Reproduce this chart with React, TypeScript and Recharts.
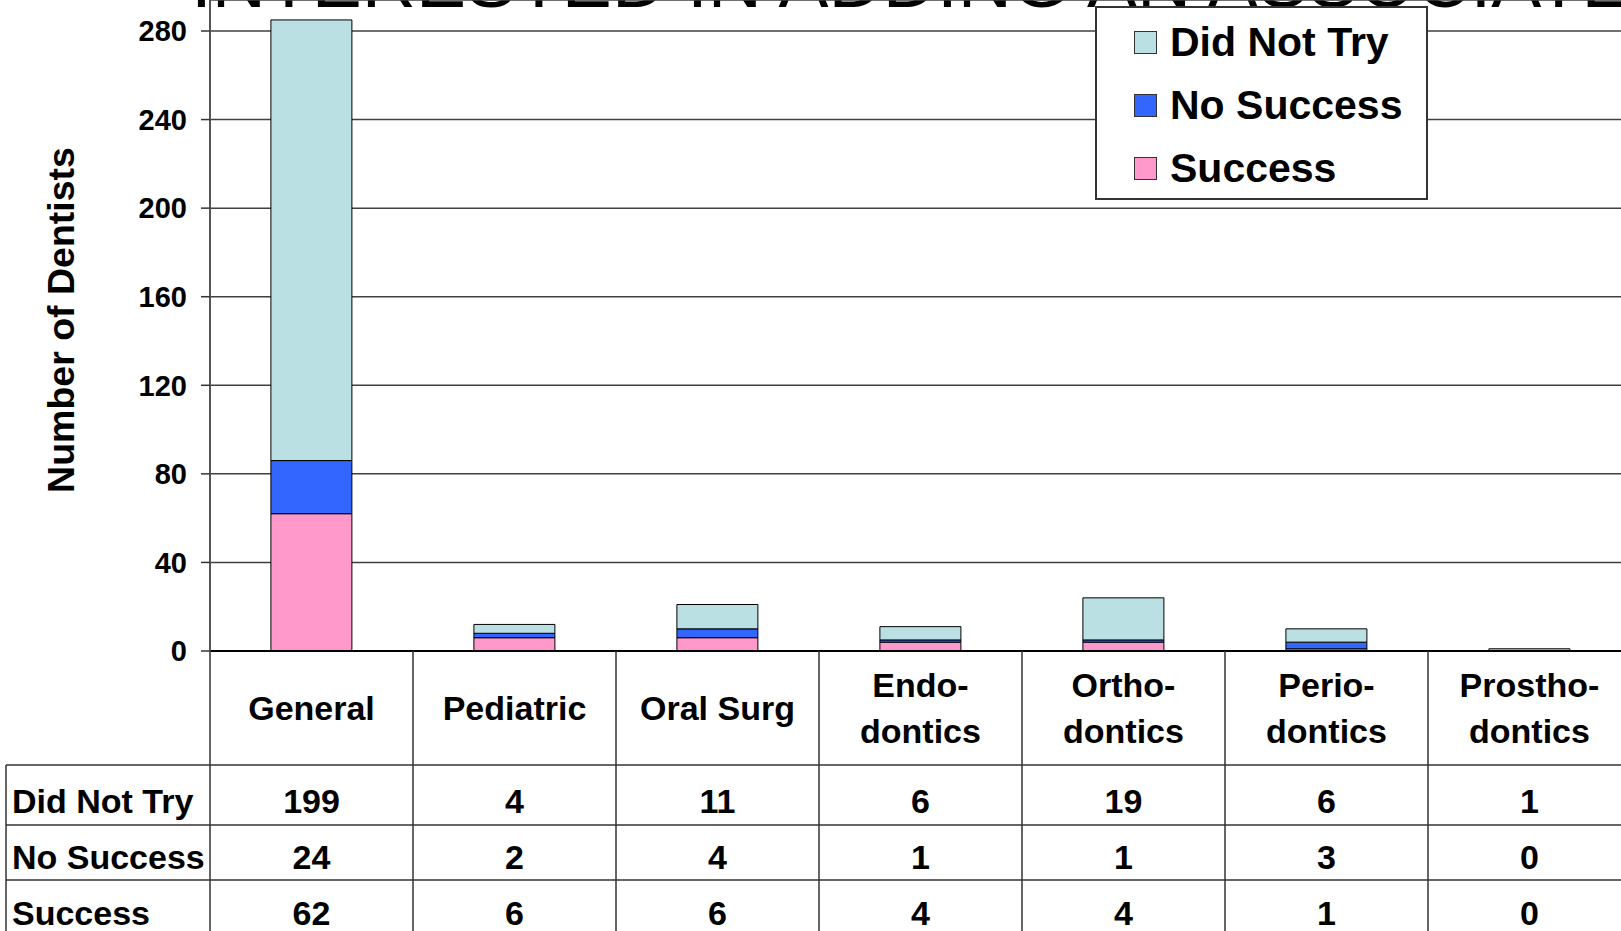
import React from 'react';
import { BarChart, Bar, XAxis, YAxis, CartesianGrid, Legend } from 'recharts';

// ---------- data ----------
const categories = ['General', 'Pediatric', 'Oral Surg', 'Endo-dontics', 'Ortho-dontics', 'Perio-dontics', 'Prostho-dontics'];
const didNotTry = [199, 4, 11, 6, 19, 6, 1];
const noSuccess = [24, 2, 4, 1, 1, 3, 0];
const success = [62, 6, 6, 4, 4, 1, 0];
const yTicks = [0, 40, 80, 120, 160, 200, 240, 280];
const titleText = 'INTERESTED IN ADDING AN ASSOCIATE';
const yAxisTitle = 'Number of Dentists';

const stackSeries = [
  { key: 'success', name: 'Success', color: '#FF99CC', values: success },
  { key: 'noSuccess', name: 'No Success', color: '#3366FF', values: noSuccess },
  { key: 'didNotTry', name: 'Did Not Try', color: '#BBE0E3', values: didNotTry },
];
const tableRows = [...stackSeries].reverse();

const data = categories.map((name, i) => ({
  name,
  success: success[i],
  noSuccess: noSuccess[i],
  didNotTry: didNotTry[i],
}));

// ---------- layout ----------
const FONT = '"Liberation Sans", Arial, Helvetica, sans-serif';
const CHART_W = 1631;
const CHART_H = 931;
const Y_AXIS_W = 210;
const X_AXIS_H = 280;
const PLOT_BOTTOM = CHART_H - X_AXIS_H;
const BAND = (CHART_W - Y_AXIS_W) / categories.length;
const TABLE_LEFT = 6;
const ROW_LINES = [765, 825, 880];
const ROW_BASELINES = [813, 869, 925];
const LINE_COLOR = '#333';

const TableTick = (props: any) => {
  const { x, payload } = props;
  const i = categories.indexOf(payload.value);
  const left = x - BAND / 2;
  const right = x + BAND / 2;
  const label: string = payload.value;
  const parts = label.includes('-') ? [label.slice(0, label.indexOf('-') + 1), label.slice(label.indexOf('-') + 1)] : [label];
  const textStyle = { fontFamily: FONT, fontWeight: 'bold' as const, fontSize: 34, fill: '#000' };
  return (
    <g>
      {i === 0 && (
        <g>
          <line x1={left} y1={PLOT_BOTTOM} x2={left} y2={CHART_H} stroke={LINE_COLOR} strokeWidth={1.5} />
          <line x1={TABLE_LEFT} y1={ROW_LINES[0]} x2={TABLE_LEFT} y2={CHART_H} stroke={LINE_COLOR} strokeWidth={1.5} />
          {ROW_LINES.map((ry) => (
            <line key={ry} x1={TABLE_LEFT} y1={ry} x2={left} y2={ry} stroke={LINE_COLOR} strokeWidth={1.5} />
          ))}
          {tableRows.map((r, k) => (
            <text key={r.key} x={12} y={ROW_BASELINES[k]} textAnchor="start" {...textStyle}>
              {r.name}
            </text>
          ))}
        </g>
      )}
      <line x1={right} y1={PLOT_BOTTOM} x2={right} y2={CHART_H} stroke={LINE_COLOR} strokeWidth={1.5} />
      {ROW_LINES.map((ry) => (
        <line key={ry} x1={left} y1={ry} x2={right} y2={ry} stroke={LINE_COLOR} strokeWidth={1.5} />
      ))}
      {parts.length === 1 ? (
        <text x={x} y={720} textAnchor="middle" {...textStyle}>{parts[0]}</text>
      ) : (
        <g>
          <text x={x} y={697} textAnchor="middle" {...textStyle}>{parts[0]}</text>
          <text x={x} y={743} textAnchor="middle" {...textStyle}>{parts[1]}</text>
        </g>
      )}
      {tableRows.map((r, k) => (
        <text key={r.key} x={x} y={ROW_BASELINES[k]} textAnchor="middle" {...textStyle}>
          {r.values[i]}
        </text>
      ))}
    </g>
  );
};

const renderLegend = () => (
  <div
    style={{
      position: 'relative',
      width: 333,
      height: 194,
      background: '#fff',
      border: '2px solid #333',
      boxSizing: 'border-box',
      fontFamily: FONT,
    }}
  >
    {tableRows.map((s, i) => (
      <div
        key={s.key}
        style={{
          position: 'absolute',
          left: 37,
          top: 34 + 63 * i - 23,
          height: 46,
          display: 'flex',
          alignItems: 'center',
          whiteSpace: 'nowrap',
        }}
      >
        <span
          style={{
            display: 'inline-block',
            width: 23,
            height: 23,
            boxSizing: 'border-box',
            background: s.color,
            border: '1.5px solid #333',
          }}
        />
        <span style={{ marginLeft: 13, fontSize: 41, fontWeight: 'bold', lineHeight: '46px', color: '#000' }}>{s.name}</span>
      </div>
    ))}
  </div>
);

export default function App() {
  return (
    <div style={{ position: 'absolute', left: 0, top: 0, width: 1621, height: 931, overflow: 'hidden', background: '#fff' }}>
      <svg width={1621} height={931} style={{ position: 'absolute', left: 0, top: 0 }}>
        <text x={191} y={7} fontFamily={FONT} fontWeight="normal" fontSize={75} fill="#000">
          {titleText}
        </text>
      </svg>
      <div style={{ position: 'absolute', left: 0, top: 0 }}>
        <BarChart
          width={CHART_W}
          height={CHART_H}
          data={data}
          margin={{ top: 0, right: 0, bottom: 0, left: 0 }}
          barCategoryGap="30%"
        >
          <CartesianGrid horizontal vertical={false} stroke="#404040" strokeWidth={1.5} />
          <XAxis
            dataKey="name"
            height={X_AXIS_H}
            interval={0}
            tickLine={false}
            tickSize={0}
            axisLine={{ stroke: '#000', strokeWidth: 2 }}
            tick={(p: any) => <TableTick {...p} />}
          />
          <YAxis
            width={Y_AXIS_W}
            domain={[0, 294]}
            ticks={yTicks}
            interval={0}
            tickSize={9}
            tickMargin={14}
            axisLine={{ stroke: '#555', strokeWidth: 2 }}
            tickLine={{ stroke: '#333', strokeWidth: 1.5 }}
            tick={{ fontFamily: FONT, fontWeight: 'bold', fontSize: 29, fill: '#000' }}
            label={{
              content: () => (
                <text
                  x={74}
                  y={320}
                  transform="rotate(-90 74 320)"
                  textAnchor="middle"
                  fontFamily={FONT}
                  fontWeight="bold"
                  fontSize={37.5}
                  fill="#000"
                >
                  {yAxisTitle}
                </text>
              ),
            }}
          />
          <Legend
            layout="horizontal"
            verticalAlign="middle"
            align="center"
            content={renderLegend}
            wrapperStyle={{ position: 'absolute', left: 1095, top: 6, width: 333, height: 194 }}
          />
          {stackSeries.map((s) => (
            <Bar
              key={s.key}
              dataKey={s.key}
              name={s.name}
              stackId="a"
              fill={s.color}
              stroke="#000"
              strokeWidth={1}
              isAnimationActive={false}
            />
          ))}
        </BarChart>
      </div>
    </div>
  );
}
